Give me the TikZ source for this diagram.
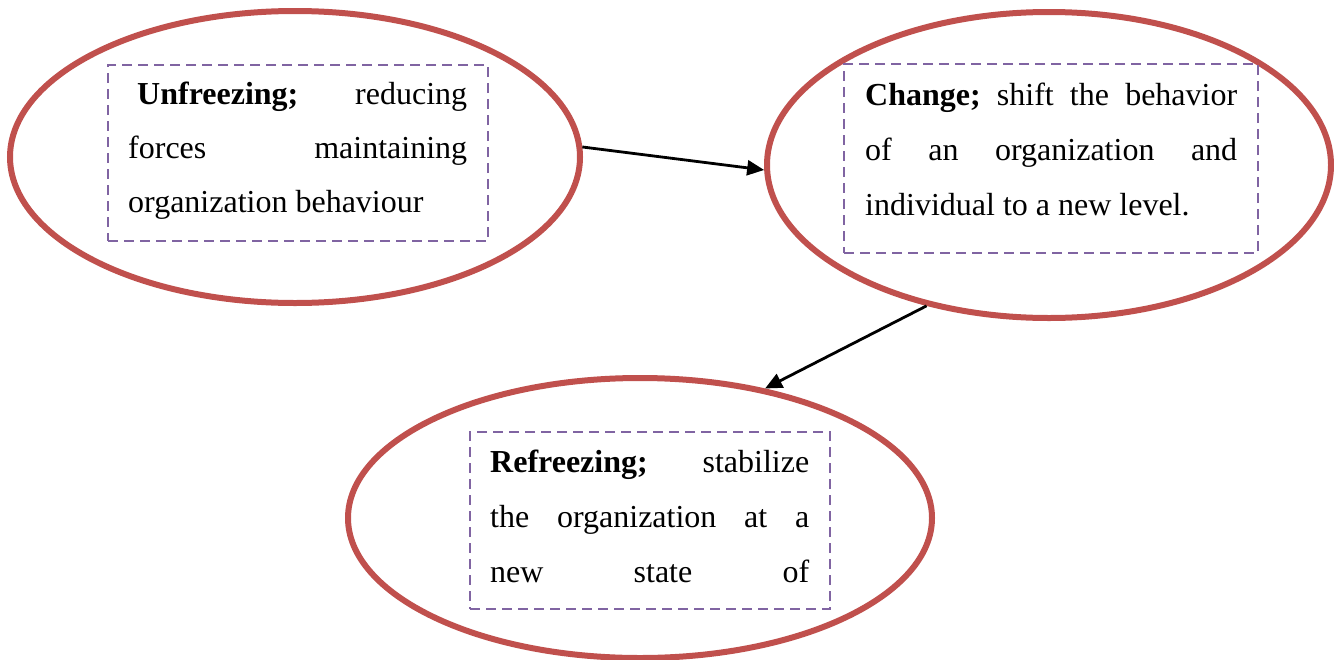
\documentclass[tikz,border=0pt]{standalone}
\usepackage{fontspec}
\setmainfont{Liberation Serif}
\usetikzlibrary{shapes.geometric,arrows.meta}
\definecolor{ellred}{HTML}{C0504D}
\definecolor{boxpurple}{HTML}{8064A2}
\tikzset{
  stage/.style={ellipse, draw=ellred, line width=6pt, inner sep=0pt},
  dbox/.style={draw=boxpurple, line width=2.8pt, dash pattern=on 10pt off 6pt, inner sep=0pt},
  txt/.style={inner sep=0pt, anchor=base west, font=\fontsize{32}{54}\selectfont},
  conn/.style={line width=2.8pt, -{Triangle[length=17pt,width=15pt]}}
}
\newcommand{\jline}[1]{\hbox to\hsize{#1}}
\begin{document}
\begin{tikzpicture}[x=1pt,y=-1pt]
\useasboundingbox (0,0) rectangle (1334,659);
% ellipses
\node[stage, minimum width=570pt, minimum height=292pt] (e1) at (295,157) {};
\node[stage, minimum width=564pt, minimum height=306pt] (e2) at (1049,165) {};
\node[stage, minimum width=584pt, minimum height=280pt] (e3) at (640,518) {};
% dashed boxes
\node[dbox, minimum width=380pt, minimum height=176pt] (b1) at (298,153) {};
\node[dbox, minimum width=414pt, minimum height=189pt] (b2) at (1051,158.5) {};
\node[dbox, minimum width=360pt, minimum height=177pt] (b3) at (650,520.5) {};
% texts
\node[txt] (t1) at (128,104) {\vtop{\hsize=339pt \baselineskip=54pt
  \jline{\hspace{9pt}\textbf{Unfreezing;}\hfill reducing}
  \jline{forces\hfill maintaining}
  \jline{organization behaviour\hfill}}};
\node[txt] (t2) at (865,105) {\vtop{\hsize=372pt \baselineskip=55pt
  \jline{\textbf{Change;}\hfill shift\hfill the\hfill behavior}
  \jline{of\hfill an\hfill organization\hfill and}
  \jline{individual to a new level.\hfill}}};
\node[txt] (t3) at (490,472) {\vtop{\hsize=319pt \baselineskip=55pt
  \jline{\textbf{Refreezing;}\hfill stabilize}
  \jline{the\hfill organization\hfill at\hfill a}
  \jline{new\hfill state\hfill of}}};
% connectors
\draw[conn] (e1.2.4) -- (e2.181.4);
\draw[conn] (e2.229.2) -- (e3.46);
\end{tikzpicture}
\end{document}
